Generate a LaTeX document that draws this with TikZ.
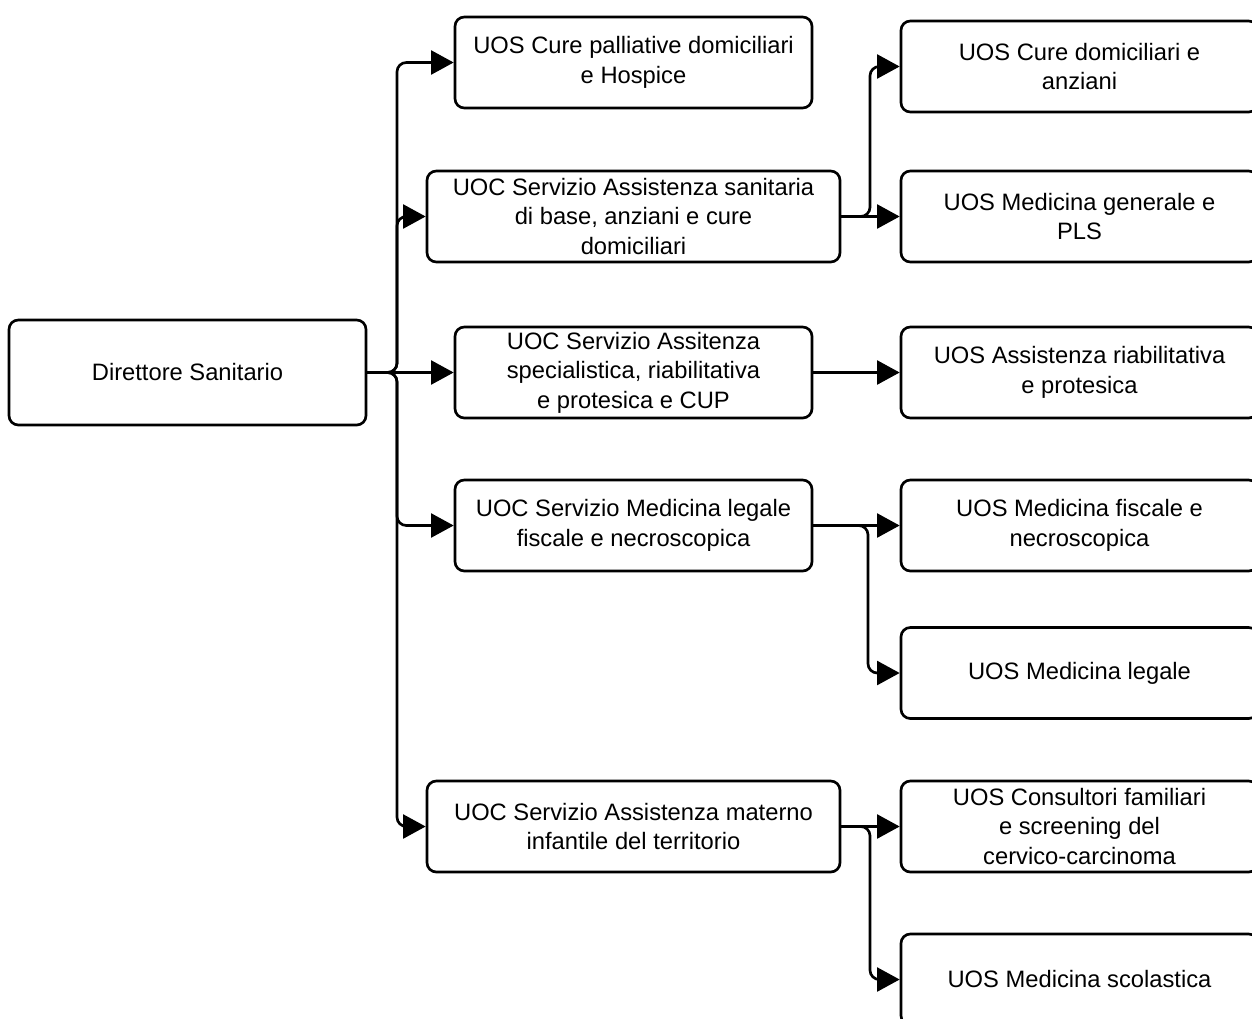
\documentclass[tikz,border=0pt]{standalone}
\usepackage{fontspec}
\setmainfont{Liberation Sans}
\usetikzlibrary{arrows.meta}
\begin{document}
\begin{tikzpicture}[x=0.75pt,y=-0.75pt,
  unit/.style={draw, line width=2pt, rounded corners=7pt, align=center,
    inner sep=2pt, font=\fontsize{17.8}{22.2}\selectfont,
    minimum width=267.75pt, minimum height=68.25pt},
  wide/.style={unit, minimum width=309.75pt},
  conn/.style={line width=2pt, rounded corners=7pt,
    -{Triangle[length=17pt,width=18pt]}}]
\clip (0,0) rectangle (1252,1018);
\fill[white] (0,0) rectangle (1252,1018);

% root
\node[unit, minimum height=78.75pt] (dir) at (187.5,372.5) {Direttore Sanitario};

% complex and simple units under the director
\node[unit] (m1) at (633.5,62.5) {UOS Cure palliative domiciliari\\e Hospice};
\node[wide] (m2) at (633.5,216.5) {UOC Servizio Assistenza sanitaria\\di base, anziani e cure\\domiciliari};
\node[unit] (m3) at (633.5,372.5) {UOC Servizio Assitenza\\specialistica, riabilitativa\\e protesica e CUP};
\node[unit] (m4) at (633.5,525.5) {UOC Servizio Medicina legale\\fiscale e necroscopica};
\node[wide] (m5) at (633.5,826.5) {UOC Servizio Assistenza materno\\infantile del territorio};

% simple units
\node[unit] (r1) at (1079.5,66.5) {UOS Cure domiciliari e\\anziani};
\node[unit] (r2) at (1079.5,216.5) {UOS Medicina generale e\\PLS};
\node[unit] (r3) at (1079.5,372.5) {UOS Assistenza riabilitativa\\e protesica};
\node[unit] (r4) at (1079.5,525.5) {UOS Medicina fiscale e\\necroscopica};
\node[unit] (r5) at (1079.5,673) {UOS Medicina legale};
\node[unit] (r6) at (1079.5,826.5) {UOS Consultori familiari\\e screening del\\cervico-carcinoma};
\node[unit] (r7) at (1079.5,979.5) {UOS Medicina scolastica};

% director branches
\draw[conn] (dir.east) -- (397,372.5) |- (m1.west);
\draw[conn] (dir.east) -- (397,372.5) |- (m2.west);
\draw[conn] (dir.east) -- (m3.west);
\draw[conn] (dir.east) -- (397,372.5) |- (m4.west);
\draw[conn] (dir.east) -- (397,372.5) |- (m5.west);

% second level branches
\draw[conn] (m2.east) -- (870,216.5) |- (r1.west);
\draw[conn] (m2.east) -- (r2.west);
\draw[conn] (m3.east) -- (r3.west);
\draw[conn] (m4.east) -- (r4.west);
\draw[conn] (m4.east) -- (868,525.5) |- (r5.west);
\draw[conn] (m5.east) -- (r6.west);
\draw[conn] (m5.east) -- (870,826.5) |- (r7.west);
\end{tikzpicture}
\end{document}
